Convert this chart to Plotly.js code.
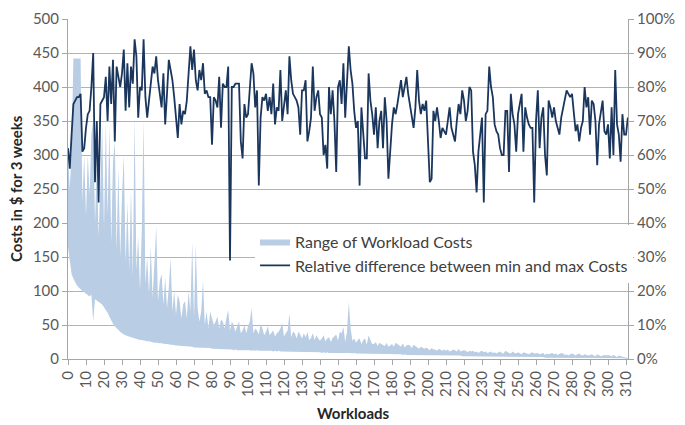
<!DOCTYPE html>
<html>
<head>
<meta charset="utf-8">
<script src="https://cdn.plot.ly/plotly-3.0.1.min.js"></script>
<style>html,body{margin:0;padding:0;background:#fff;}#chart{width:685px;height:425px;}</style>
</head>
<body>
<div id="chart"></div>
<script>
// Relative difference between min and max costs (%), workloads 0..311
const relDiff = [
62,56,66,75,76,77,77,78,61,62,
68,72,73,80,90,52,70,46,75,76,
77,83,70,86,75,88,64,86,83,80,
84,91,73,87,74,86,81,94,89,71,
80,79,94,77,71,76,79,86,84,89,
82,77,74,84,69,78,88,85,82,77,
72,65,75,69,73,72,76,84,92,85,
91,82,79,85,82,87,78,79,77,77,
63,77,76,74,83,68,81,80,80,86,
29,80,80,81,81,81,64,59,75,71,
72,80,87,84,74,79,51,71,77,76,
78,73,77,72,81,69,74,73,85,70,
74,79,72,89,82,78,77,76,74,66,
79,79,82,64,67,71,86,73,77,79,
72,71,60,63,56,80,72,79,70,55,
80,82,75,87,71,81,92,85,81,73,
68,70,51,74,65,59,59,84,76,72,
66,74,62,70,73,62,77,70,53,62,
69,74,72,75,78,82,77,80,83,78,
75,72,68,74,85,76,72,75,73,76,
64,52,53,73,70,74,70,65,68,67,
66,70,74,68,66,64,70,75,72,79,
76,70,73,80,79,61,57,49,61,66,
71,46,72,73,86,80,77,69,67,66,
62,60,60,73,73,55,78,72,69,61,
72,75,78,61,74,71,69,68,68,46,
70,79,62,71,74,60,54,76,74,71,
74,70,68,66,71,74,77,79,78,77,
78,72,67,69,64,68,70,80,74,77,
66,76,75,70,57,69,72,76,67,66,
69,59,74,60,85,69,66,58,72,66,
66,71
];
// Maximum workload cost ($ for 3 weeks)
const maxCost = [
300,250,305,442,442,442,442,442,230,300,
210,300,240,330,350,200,290,180,260,345,
190,350,210,345,170,290,320,160,280,150,
240,300,140,230,130,250,120,355,130,180,
100,190,352,110,150,95,165,90,140,195,
85,115,125,80,120,75,105,148,70,100,
65,95,85,60,80,85,60,100,70,172,
60,168,75,55,70,115,50,70,45,70,
60,50,55,62,45,58,55,45,60,72,
42,55,50,40,48,55,38,42,50,38,
48,55,75,38,45,42,36,52,45,35,
40,48,35,38,42,33,38,40,45,53,
33,38,42,67,32,40,38,30,40,36,
30,38,32,40,28,31,38,28,35,30,
27,30,35,26,30,32,25,31,33,36,
27,40,38,47,25,40,84,45,27,30,
24,28,30,22,28,30,21,35,28,22,
22,25,19,24,22,21,19,24,18,20,
22,18,24,22,20,18,23,17,20,21,
20,16,21,19,18,15,18,16,15,17,
15,13,16,14,14,12,15,13,12,14,
12,14,11,12,14,13,11,15,11,12,
13,12,10,12,11,12,10,11,9,11,
12,10,11,9,10,11,9,10,8,10,
11,9,8,12,10,9,8,11,9,8,
10,9,7,10,9,8,7,9,10,8,
8,9,7,8,9,6,8,7,8,9,
7,8,6,7,9,8,6,7,5,7,
8,7,5,7,8,6,5,7,6,5,
6,7,5,4,7,6,4,5,6,5,
6,5,4,6,5,3,5,4,3,2,
1,1
];
// Minimum workload cost ($ for 3 weeks)
const minCost = [
165,140,125,118,112,108,105,102,100,98,
96,94,92,95,55,88,86,84,82,80,
76,72,68,62,56,52,48,45,42,40,
38,36,35,34,33,32,31,30,29,29,
28,28,27,27,26,26,25,25,24,24,
23,23,23,22,22,22,21,21,21,20,
20,20,19,19,19,19,18,18,18,18,
17,17,17,17,17,16,16,16,16,16,
15,15,15,15,15,15,14,14,14,14,
14,14,13,14,13,13,13,14,13,13,
13,13,12,13,12,13,12,12,13,12,
12,12,12,12,11,12,11,12,11,11,
11,11,11,11,11,11,11,10,11,10,
10,11,10,10,10,10,10,10,10,10,
10,9,10,9,10,9,9,10,9,9,
9,9,9,9,9,9,9,9,8,9,
8,8,8,8,8,8,8,8,8,8,
8,7,8,7,7,7,7,7,7,7,
7,7,7,7,7,7,6,7,6,6,
6,6,6,6,6,6,6,6,6,5,
5,5,5,5,5,5,5,5,5,5,
5,5,5,5,5,5,5,5,5,4,
4,4,4,4,4,4,4,4,4,4,
4,4,4,4,4,4,4,4,4,3,
3,3,3,3,3,3,3,3,3,3,
3,3,3,3,3,3,3,3,3,3,
3,3,3,3,3,2,2,2,2,2,
2,2,2,2,2,2,2,2,2,2,
2,2,2,2,2,2,2,2,2,2,
2,2,2,2,2,2,2,2,2,1,
1,1,1,1,1,1,1,1,1,1,
0,0
];
const workloads = relDiff.map((_, i) => i);
const xTicks = [0,10,20,30,40,50,60,70,80,90,100,110,120,130,140,150,160,170,180,190,200,210,220,230,240,250,260,270,280,290,300,310];
const leftTicks = [0,50,100,150,200,250,300,350,400,450,500];
const rightTicks = [0,10,20,30,40,50,60,70,80,90,100];

const FONT = 'Lato, "Open Sans", sans-serif';
const gridCol = '#b3b3b3';
const axisCol = '#a6a6a6';

const traces = [
  {x: workloads, y: minCost, type: 'scatter', mode: 'lines', line: {width: 0, color: 'rgba(0,0,0,0)'},
   showlegend: false, hoverinfo: 'skip'},
  {x: workloads, y: maxCost, type: 'scatter', mode: 'lines', fill: 'tonexty',
   fillcolor: '#b9cde5', line: {width: 0, color: '#b9cde5'}, name: 'Range of Workload Costs'},
  {x: workloads, y: relDiff, type: 'scatter', mode: 'lines', yaxis: 'y2',
   line: {width: 1.8, color: '#1b365d'}, name: 'Relative difference between min and max Costs'}
];

const layout = {
  width: 685, height: 425,
  margin: {l: 68, r: 57, t: 19, b: 66},
  paper_bgcolor: '#fff', plot_bgcolor: '#fff',
  font: {family: FONT, size: 15, color: '#595959'},
  showlegend: true,
  legend: {x: 0.334, y: 0.395, xanchor: 'left', yanchor: 'top', bgcolor: '#ffffff', traceorder: 'normal',
           font: {family: FONT, size: 16, color: '#404040'}, tracegroupgap: 0},
  xaxis: {range: [0, 311.1], tickmode: 'array', tickvals: xTicks, ticktext: xTicks.map(String),
          tickangle: -90, ticks: 'outside', ticklen: 5, tickcolor: axisCol,
          showline: true, linecolor: axisCol, linewidth: 1, showgrid: false, zeroline: false,
          tickfont: {family: FONT, size: 15, color: '#595959'}},
  yaxis: {range: [0, 500], tickmode: 'array', tickvals: leftTicks, ticktext: leftTicks.map(String),
          ticks: 'outside', ticklen: 5, tickcolor: axisCol, showline: true, linecolor: axisCol,
          showgrid: true, gridcolor: gridCol, gridwidth: 1, zeroline: false,
          tickfont: {family: FONT, size: 15, color: '#595959'}},
  yaxis2: {range: [0, 100], overlaying: 'y', side: 'right', tickmode: 'array', tickvals: rightTicks,
           ticktext: rightTicks.map(v => v + '%'), ticks: 'outside', ticklen: 5, tickcolor: axisCol,
           showline: true, linecolor: axisCol, showgrid: false, zeroline: false,
           tickfont: {family: FONT, size: 15, color: '#595959'}},
  annotations: [
    {text: '<b>Workloads</b>', xref: 'paper', yref: 'paper', x: 0.509, y: 0, yshift: -54,
     xanchor: 'center', yanchor: 'middle', showarrow: false, font: {family: FONT, size: 15, color: '#262626'}},
    {text: '<b>Costs in $ for 3 weeks</b>', xref: 'paper', yref: 'paper', x: 0, xshift: -52, y: 0.5,
     xanchor: 'center', yanchor: 'middle', textangle: -90, showarrow: false,
     font: {family: FONT, size: 15, color: '#262626'}}
  ]
};

Plotly.newPlot('chart', traces, layout, {displayModeBar: false, staticPlot: true});
</script>
</body>
</html>
